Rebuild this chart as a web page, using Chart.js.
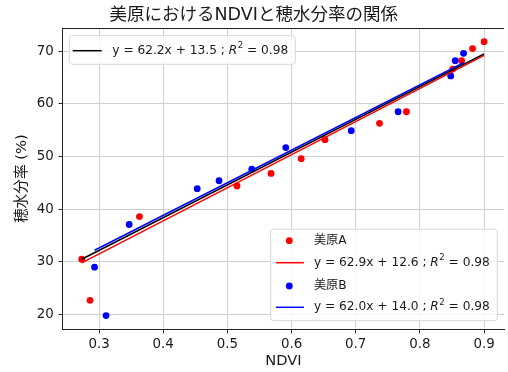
<!DOCTYPE html>
<html>
<head>
<meta charset="utf-8">
<script src="https://cdn.jsdelivr.net/npm/chart.js"></script>
<style>
  html, body { margin: 0; padding: 0; background: #fff; overflow: hidden; }
  #wrap { width: 508px; height: 372px; }
</style>
</head>
<body>
<div id="wrap"><canvas id="c" width="508" height="372"></canvas></div>
<script>
// 美原A
const ndviA = [0.273, 0.286, 0.363, 0.515, 0.568, 0.615, 0.652, 0.737, 0.779, 0.851, 0.865, 0.882, 0.900];
const moistA = [30.5, 22.7, 38.6, 44.4, 46.8, 49.6, 53.2, 56.3, 58.5, 66.6, 68.2, 70.5, 71.8];
// 美原B
const ndviB = [0.293, 0.311, 0.347, 0.453, 0.487, 0.538, 0.591, 0.693, 0.766, 0.848, 0.855, 0.868];
const moistB = [29.0, 19.8, 37.1, 43.9, 45.4, 47.6, 51.7, 54.9, 58.5, 65.3, 68.2, 69.6];

// fitted lines (end points)
const fitAllX = [0.273, 0.900], fitAllY = [30.5, 69.5];
const fitAX = [0.273, 0.900], fitAY = [29.8, 69.2];
const fitBX = [0.293, 0.868], fitBY = [32.2, 67.8];

const eqAll = 'y = 62.2x + 13.5', eqA = 'y = 62.9x + 12.6', eqB = 'y = 62.0x + 14.0';
const r2All = '0.98', r2A = '0.98', r2B = '0.98';
const nameA = '美原A', nameB = '美原B';

const xTicks = [0.3, 0.4, 0.5, 0.6, 0.7, 0.8, 0.9];
const yTicks = [20, 30, 40, 50, 60, 70];

const FONT = '"DejaVu Sans", "Noto Sans CJK JP", sans-serif';
const TXT = '#1a1a1a';

const pts = (xs, ys) => xs.map((x, i) => ({ x: x, y: ys[i] }));

function drawEq(ctx, x, y, eq, r2) {
  ctx.fillStyle = TXT;
  ctx.textBaseline = 'middle';
  ctx.textAlign = 'left';
  ctx.font = '12.2px ' + FONT;
  const head = eq + ' ; ';
  ctx.fillText(head, x, y);
  x += ctx.measureText(head).width;
  ctx.font = 'italic 12.2px "DejaVu Sans"';
  ctx.fillText('R', x, y);
  x += ctx.measureText('R').width + 0.5;
  ctx.font = '8.5px "DejaVu Sans"';
  ctx.fillText('2', x, y - 5);
  x += ctx.measureText('2').width;
  ctx.font = '12.2px ' + FONT;
  ctx.fillText(' = ' + r2, x, y);
}

function box(ctx, x, y, w, h) {
  ctx.save();
  ctx.beginPath();
  ctx.roundRect(x, y, w, h, 3);
  ctx.fillStyle = 'rgba(255,255,255,0.8)';
  ctx.fill();
  ctx.strokeStyle = '#d6d6d6';
  ctx.lineWidth = 1;
  ctx.stroke();
  ctx.restore();
}

const legendPlugin = {
  id: 'legends',
  afterDraw(chart) {
    const ctx = chart.ctx;
    const a = chart.chartArea;
    ctx.save();
    // top spine
    ctx.strokeStyle = '#222';
    ctx.lineWidth = 1;
    ctx.beginPath();
    ctx.moveTo(a.left, a.top + 0.5);
    ctx.lineTo(a.right, a.top + 0.5);
    ctx.stroke();

    // upper-left legend
    let bx = a.left + 6.6, by = a.top + 7.7;
    box(ctx, bx, by, 226, 28.6);
    ctx.strokeStyle = '#000';
    ctx.lineWidth = 1.5;
    ctx.beginPath();
    ctx.moveTo(bx + 3.4, by + 15);
    ctx.lineTo(bx + 32.4, by + 15);
    ctx.stroke();
    drawEq(ctx, bx + 43, by + 15, eqAll, r2All);

    // lower-right legend
    const w2 = 226.7, h2 = 91.4;
    bx = a.right - 6.7 - w2; by = a.bottom - 8.6 - h2;
    box(ctx, bx, by, w2, h2);
    const rows = [11.4, 33.4, 56.7, 78];
    const mx = bx + 18.7;
    ctx.fillStyle = 'red';
    ctx.beginPath(); ctx.arc(mx, by + rows[0], 3.4, 0, Math.PI * 2); ctx.fill();
    ctx.fillStyle = 'blue';
    ctx.beginPath(); ctx.arc(mx, by + rows[2], 3.4, 0, Math.PI * 2); ctx.fill();
    ctx.lineWidth = 1.5;
    ctx.strokeStyle = 'red';
    ctx.beginPath(); ctx.moveTo(bx + 5.3, by + rows[1]); ctx.lineTo(bx + 33.3, by + rows[1]); ctx.stroke();
    ctx.strokeStyle = 'blue';
    ctx.beginPath(); ctx.moveTo(bx + 5.3, by + rows[3]); ctx.lineTo(bx + 33.3, by + rows[3]); ctx.stroke();
    const tx = bx + 43.3;
    ctx.fillStyle = TXT;
    ctx.textBaseline = 'middle';
    ctx.font = '12.2px ' + FONT;
    ctx.fillText(nameA, tx, by + rows[0]);
    ctx.fillText(nameB, tx, by + rows[2]);
    drawEq(ctx, tx, by + rows[1], eqA, r2A);
    drawEq(ctx, tx, by + rows[3], eqB, r2B);
    ctx.restore();
  }
};

new Chart(document.getElementById('c'), {
  type: 'scatter',
  data: {
    datasets: [
      { type: 'line', data: pts(fitAllX, fitAllY), borderColor: '#000', borderWidth: 1.5, pointRadius: 0, order: 0 },
      { type: 'line', data: pts(fitBX, fitBY), borderColor: 'blue', borderWidth: 1.5, pointRadius: 0, order: 1 },
      { type: 'line', data: pts(fitAX, fitAY), borderColor: 'red', borderWidth: 1.5, pointRadius: 0, order: 2 },
      { data: pts(ndviB, moistB), backgroundColor: 'blue', borderWidth: 0, pointRadius: 3.4, order: 3 },
      { data: pts(ndviA, moistA), backgroundColor: 'red', borderWidth: 0, pointRadius: 3.4, order: 4 }
    ]
  },
  options: {
    responsive: false,
    animation: false,
    layout: { padding: { left: 0, right: 0.6, top: 0, bottom: 0 } },
    plugins: {
      legend: { display: false },
      tooltip: { enabled: false },
      title: {
        display: true,
        text: '美原におけるNDVIと穂水分率の関係',
        color: TXT,
        font: { family: FONT, size: 17.5, weight: 'normal', lineHeight: 1.2 },
        padding: { top: 4.5, bottom: 2.5 }
      }
    },
    scales: {
      x: {
        type: 'linear',
        min: 0.2434,
        max: 0.931,
        afterFit(s) { s.height = 42.7; },
        afterBuildTicks(s) { s.ticks = xTicks.map(v => ({ value: v })); },
        ticks: {
          color: TXT,
          font: { family: FONT, size: 13.4 },
          padding: 3,
          maxRotation: 0,
          callback: v => v.toFixed(1)
        },
        grid: { color: '#d0d0d0', lineWidth: 1, tickLength: 4, tickColor: '#222' },
        border: { display: true, color: '#222', width: 1 },
        title: {
          display: true,
          text: 'NDVI',
          color: TXT,
          font: { family: FONT, size: 14.7, lineHeight: 1.2 },
          padding: { top: 0, bottom: 2.2 }
        }
      },
      y: {
        type: 'linear',
        min: 17.2,
        max: 74.4,
        afterFit(s) { s.width = 62.7; },
        afterBuildTicks(s) { s.ticks = yTicks.map(v => ({ value: v })); },
        ticks: {
          color: TXT,
          font: { family: FONT, size: 13.4 },
          padding: 5
        },
        grid: { color: '#d0d0d0', lineWidth: 1, tickLength: 4, tickColor: '#222' },
        border: { display: true, color: '#222', width: 1 },
        title: {
          display: true,
          text: '穂水分率 (%)',
          color: TXT,
          font: { family: FONT, size: 14.7, lineHeight: 1.2 },
          padding: { top: 13, bottom: 0 }
        }
      }
    }
  },
  plugins: [legendPlugin]
});
</script>
</body>
</html>
